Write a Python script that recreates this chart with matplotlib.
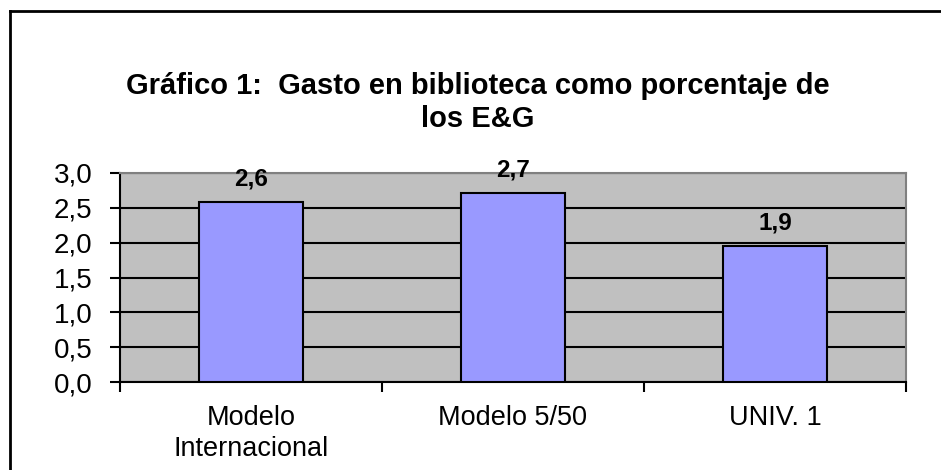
import matplotlib.pyplot as plt
from matplotlib.lines import Line2D

plt.rcParams['font.family'] = ['Liberation Sans', 'DejaVu Sans']

categories = ["Modelo\nInternacional", "Modelo 5/50", "UNIV. 1"]
values = [2.58, 2.72, 1.95]
value_labels = ["2,6", "2,7", "1,9"]
yticks = [0.0, 0.5, 1.0, 1.5, 2.0, 2.5, 3.0]
ytick_labels = ["0,0", "0,5", "1,0", "1,5", "2,0", "2,5", "3,0"]
title_lines = ["Gráfico 1:  Gasto en biblioteca como porcentaje de", "los E&G"]

fig = plt.figure(figsize=(9.41, 4.70), dpi=100)
ax = fig.add_axes([120 / 941, 88 / 470, 786 / 941, 209 / 470])

# plot area
ax.set_facecolor("#C0C0C0")
x = list(range(len(categories)))
ax.set_axisbelow(True)
ax.yaxis.grid(True, color="black", linewidth=1.5)
ax.bar(x, values, width=0.4, color="#9999FF", edgecolor="black", linewidth=1.5, zorder=3)

for xi, v, lab in zip(x, values, value_labels):
    ax.annotate(lab, (xi, v), xytext=(0, 16.5), textcoords="offset points",
                ha="center", va="center", fontsize=17.5, fontweight="bold")

ax.set_xlim(-0.5, 2.5)
ax.set_ylim(0, 3.0)
ax.set_yticks(yticks)
ax.set_yticklabels(ytick_labels, fontsize=20)
ax.tick_params(axis="y", length=7, width=1.5, pad=13, color="black")

# category ticks sit on the boundaries, labels in the middle
ax.set_xticks([-0.5, 0.5, 1.5, 2.5])
ax.set_xticklabels([])
ax.set_xticks(x, minor=True)
ax.set_xticklabels(categories, minor=True, fontsize=19.5, linespacing=1.25)
ax.tick_params(axis="x", which="major", length=7, width=1.5, direction="out")
ax.tick_params(axis="x", which="minor", length=0, pad=16.5)

for s in ["left", "bottom"]:
    ax.spines[s].set_color("black")
    ax.spines[s].set_linewidth(1.5)
for s in ["top", "right"]:
    ax.spines[s].set_color("#808080")
    ax.spines[s].set_linewidth(1.5)

fig.text(478 / 941, 1 - 86 / 470, title_lines[0], ha="center", va="center",
         fontsize=21, fontweight="bold")
fig.text(478 / 941, 1 - 119 / 470, title_lines[1], ha="center", va="center",
         fontsize=21, fontweight="bold")

# chart border (right and bottom edges fall outside the picture)
fig.add_artist(Line2D([10 / 941, 10 / 941], [0, 1 - 11 / 470], color="black", linewidth=2))
fig.add_artist(Line2D([10 / 941, 1], [1 - 11 / 470, 1 - 11 / 470], color="black", linewidth=2))

fig.savefig("out.png", dpi=100)
